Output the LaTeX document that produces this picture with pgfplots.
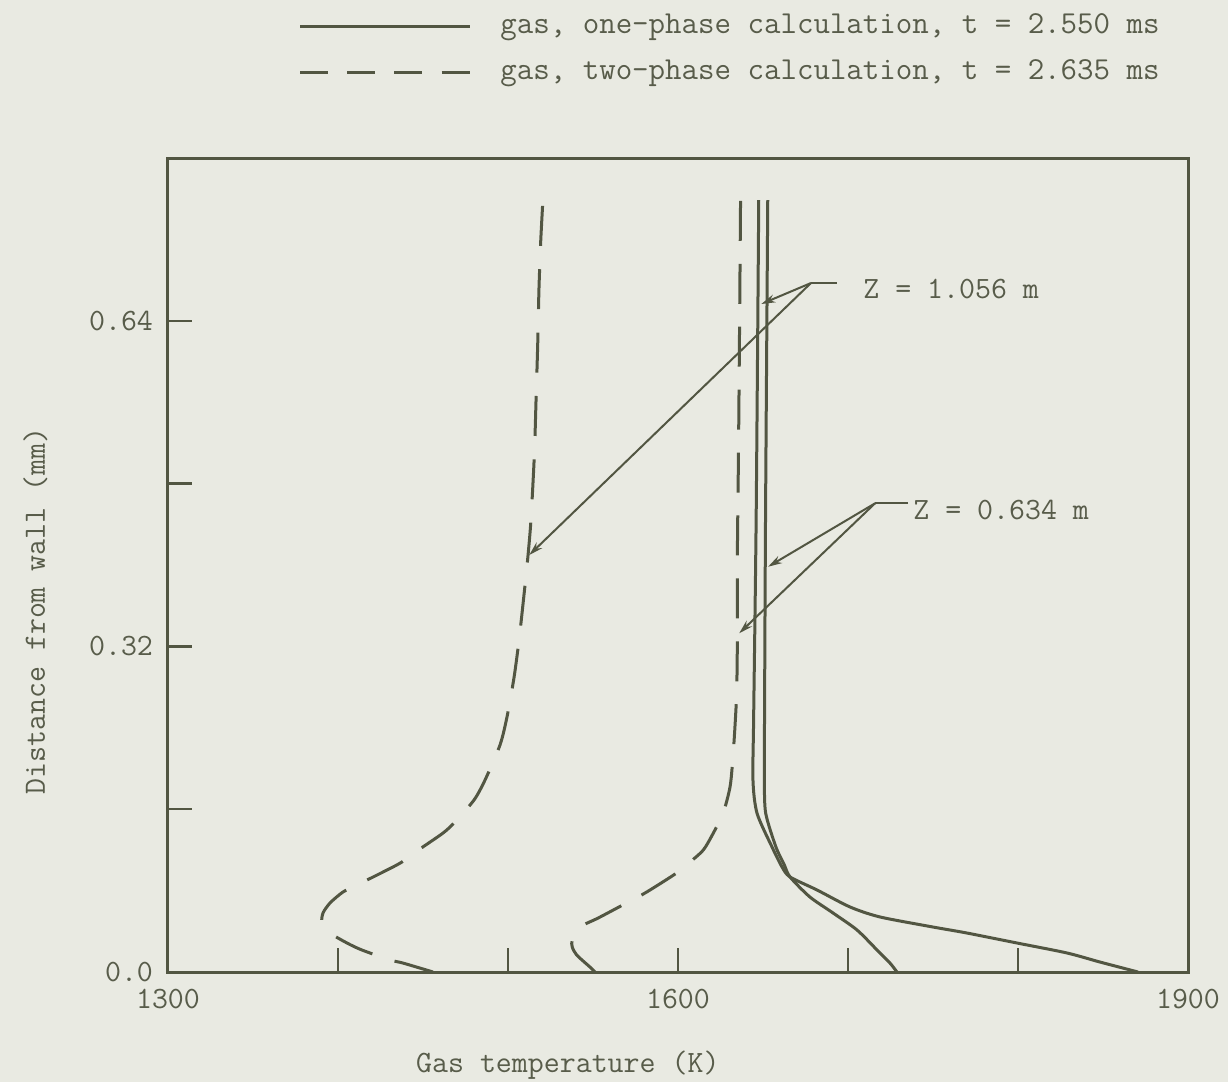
\documentclass[border=0pt]{standalone}
\usepackage{fontspec}
\usepackage{pgfplots}
\pgfplotsset{compat=1.18}
\usetikzlibrary{arrows.meta}

\definecolor{paper}{RGB}{233,234,226}
\definecolor{ink}{RGB}{82,86,66}
\definecolor{inktext}{RGB}{88,92,74}

\newcommand{\typefont}{\ttfamily\fontsize{15.5bp}{18bp}\selectfont}
\newcommand{\legendfont}{\ttfamily\fontsize{16bp}{18bp}\selectfont}

\begin{document}
\begin{tikzpicture}[font=\typefont, text=inktext]
  % page background
  \path[use as bounding box, fill=paper] (-84bp,-55bp) rectangle (530bp,486bp);

  \begin{axis}[
    at={(0,0)}, anchor=south west,
    width=510bp, height=407bp, scale only axis,
    xmin=1300, xmax=1900, ymin=0, ymax=0.8,
    axis line style={ink, line width=1.5bp},
    xtick={1300,1400,...,1900},
    xticklabels={1300,,,1600,,,1900},
    ytick={0,0.16,0.32,0.48,0.64},
    yticklabels={0.0,,0.32,,0.64},
    tick align=inside, xtick pos=bottom, ytick pos=left,
    major tick length=12bp,
    tick style={ink, line width=1.2bp},
    ticklabel style={font=\typefont, text=inktext},
    xticklabel style={yshift=-5bp},
    yticklabel style={xshift=-4bp},
    xlabel={Gas temperature (K)},
    ylabel={Distance from wall (mm)},
    label style={font=\typefont, text=inktext},
    xlabel style={at={(axis description cs:0.392,-0.114)}, anchor=center},
    ylabel style={at={(axis description cs:-0.13,0.4435)}, anchor=center},
    clip=false,
  ]

  % two-phase gas, Z = 1.056 m (listed from the wall outwards)
  \addplot[ink, line width=1.5bp, smooth, tension=0.45, dash pattern=on 20bp off 11.7bp] coordinates {
    (1455.9,0.0) (1438.2,0.0088) (1430.6,0.0118) (1414.1,0.0216)
    (1405.3,0.0285) (1395.3,0.0383) (1390.6,0.0482) (1391.2,0.0580)
    (1395.3,0.0678) (1402.9,0.0786) (1411.2,0.0855) (1428.8,0.1002)
    (1437.6,0.1081) (1448.2,0.1209) (1461.8,0.1366) (1468.8,0.1474)
    (1480.0,0.1690) (1486.5,0.1887) (1495.3,0.2231) (1499.4,0.2506)
    (1503.5,0.2889) (1506.5,0.3263) (1509.4,0.3705) (1511.8,0.4098)
    (1513.5,0.4442) (1515.5,0.5081) (1516.5,0.5622) (1517.5,0.6182)
    (1518.2,0.6703) (1519.2,0.7165) (1520.4,0.7548)
  };

  % two-phase gas, Z = 0.634 m
  \addplot[ink, line width=1.5bp, smooth, tension=0.45, dash pattern=on 20bp off 11.46bp] coordinates {
    (1551.2,0.0) (1548.2,0.0049) (1540.4,0.0167) (1537.8,0.0246)
    (1537.8,0.0314) (1542.4,0.0442) (1553.1,0.0531) (1570.8,0.0688)
    (1581.6,0.0786) (1599.2,0.0973) (1607.1,0.1081) (1614.9,0.1199)
    (1620.8,0.1366) (1626.6,0.1563) (1630.6,0.1818) (1632.2,0.2084)
    (1633.5,0.2408) (1634.5,0.2742) (1634.9,0.3233) (1634.9,0.4049)
    (1635.6,0.513) (1636.2,0.631) (1636.8,0.7587)
  };

  % one-phase gas, Z = 1.056 m
  \addplot[ink, line width=1.5bp, smooth, tension=0.45] coordinates {
    (1647.5,0.7587) (1646.0,0.45) (1644.5,0.25) (1644.1,0.1887)
    (1646.5,0.156) (1655.3,0.1229) (1661.2,0.1032) (1665.9,0.0934)
    (1681.8,0.0806) (1701.2,0.0639) (1718.8,0.0541) (1750.0,0.0442)
    (1770.0,0.0383) (1799.4,0.0285) (1828.8,0.0187) (1848.2,0.0098)
    (1870.6,0.0)
  };

  % one-phase gas, Z = 0.634 m
  \addplot[ink, line width=1.5bp, smooth, tension=0.45] coordinates {
    (1652.8,0.7587) (1651.5,0.45) (1650.9,0.25) (1650.8,0.1887)
    (1651.6,0.156) (1657.6,0.1229) (1662.6,0.105) (1665.9,0.0934)
    (1677.6,0.0737) (1691.2,0.058) (1705.3,0.0413) (1717.1,0.0216)
    (1724.7,0.0088) (1728.8,0.0)
  };

  % leaders for Z = 1.056 m
  \draw[ink, line width=1bp] (axis cs:1693.5,0.6771) -- (axis cs:1678.2,0.6771);
  \draw[ink, line width=1bp, -{Stealth[length=7bp,width=4bp]}] (axis cs:1678.2,0.6771) -- (axis cs:1649.0,0.6565);
  \draw[ink, line width=1bp, -{Stealth[length=7bp,width=4bp]}] (axis cs:1678.2,0.6771) -- (axis cs:1512.5,0.4098);
  \node[anchor=west, inner sep=0pt] at (axis cs:1708.8,0.6712) {Z = 1.056 m};

  % leaders for Z = 0.634 m
  \draw[ink, line width=1bp] (axis cs:1735.3,0.4606) -- (axis cs:1715.9,0.4606);
  \draw[ink, line width=1bp, -{Stealth[length=7bp,width=4bp]}] (axis cs:1715.9,0.4606) -- (axis cs:1653.0,0.3983);
  \draw[ink, line width=1bp, -{Stealth[length=7bp,width=4bp]}] (axis cs:1715.9,0.4606) -- (axis cs:1636.0,0.3329);
  \node[anchor=west, inner sep=0pt] at (axis cs:1738.2,0.454) {Z = 0.634 m};
  \end{axis}

  % legend
  \draw[ink, line width=1.5bp] (66bp,472.5bp) -- (151bp,472.5bp);
  \node[anchor=west, inner sep=0pt, font=\legendfont] at (166bp,472.5bp) {gas, one-phase calculation, t = 2.550 ms};
  \draw[ink, line width=1.5bp, dash pattern=on 14bp off 9.6bp] (66bp,449.5bp) -- (151bp,449.5bp);
  \node[anchor=west, inner sep=0pt, font=\legendfont] at (166bp,449.5bp) {gas, two-phase calculation, t = 2.635 ms};
\end{tikzpicture}
\end{document}
